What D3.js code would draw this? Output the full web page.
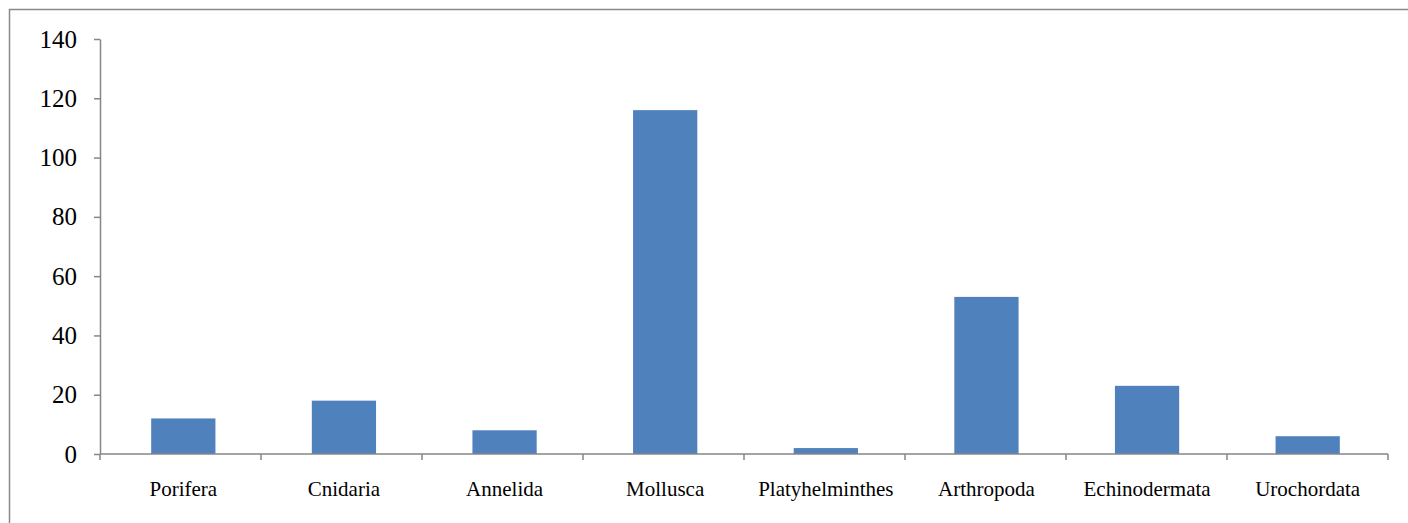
<!DOCTYPE html>
<html>
<head>
<meta charset="utf-8">
<script src="https://cdn.jsdelivr.net/npm/d3@7"></script>
<style>
  body { margin: 0; background: #fff; }
  svg text { font-family: "Times New Roman", "Liberation Serif", "DejaVu Serif", serif !important; fill: #000; }
</style>
</head>
<body>
<div id="chart"></div>
<script>
let categories = ["Porifera", "Cnidaria", "Annelida", "Mollusca", "Platyhelminthes", "Arthropoda", "Echinodermata", "Urochordata"]
let counts = [12, 18, 8, 116, 2, 53, 23, 6]
let yTicks = [0, 20, 40, 60, 80, 100, 120, 140]

let W = 1408, H = 523
let margin = {top: 39, right: 20, bottom: 69, left: 100},
    width = 1388 - margin.left,
    height = 454 - margin.top

let svg = d3.select("#chart")
    .append("svg")
    .attr("width", W)
    .attr("height", H)

// outer frame, runs off the right and bottom edge
svg.append("rect")
    .attr("x", 9.5).attr("y", 9.5)
    .attr("width", W + 20).attr("height", H + 20)
    .attr("fill", "none")
    .attr("stroke", "#898989")
    .attr("stroke-width", 1.5)

let g = svg.append("g")
    .attr("transform", "translate(" + margin.left + "," + margin.top + ")")

// bars sit a touch right of the tick cells in the original
let x = d3.scaleBand()
    .domain(categories)
    .range([3, width])
    .paddingInner(0.6)
    .paddingOuter(0.3)

let y = d3.scaleLinear()
    .domain([0, 140])
    .range([height, 0])

// bars
g.selectAll(".bar")
    .data(categories)
    .enter().append("rect")
    .attr("class", "bar")
    .attr("x", d => x(d))
    .attr("width", x.bandwidth())
    .attr("y", (d, i) => y(counts[i]))
    .attr("height", (d, i) => height - y(counts[i]))
    .attr("fill", "#4f81bd")

// y axis
let yAxis = g.append("g")
    .call(d3.axisLeft(y).tickValues(yTicks).tickSize(6).tickSizeOuter(0).tickPadding(17))
yAxis.attr("font-family", null)
yAxis.select(".domain").attr("stroke", "#868686").attr("stroke-width", 1.5)
yAxis.selectAll(".tick line").attr("stroke", "#868686").attr("stroke-width", 1.5)
yAxis.selectAll(".tick text").attr("font-size", 25)

// x axis: baseline with ticks at category boundaries
let xAxis = g.append("g")
    .attr("transform", "translate(0," + height + ")")
xAxis.append("line")
    .attr("x1", 0).attr("x2", width)
    .attr("stroke", "#868686").attr("stroke-width", 1.5)
let step = width / categories.length
xAxis.selectAll(".xtick")
    .data(d3.range(categories.length + 1))
    .enter().append("line")
    .attr("x1", i => i * step).attr("x2", i => i * step)
    .attr("y1", 0).attr("y2", 6)
    .attr("stroke", "#868686").attr("stroke-width", 1.5)
xAxis.selectAll(".xlabel")
    .data(categories)
    .enter().append("text")
    .attr("x", d => x(d) + x.bandwidth() / 2)
    .attr("y", 42)
    .attr("text-anchor", "middle")
    .attr("font-size", 21)
    .text(d => d)
</script>
</body>
</html>
